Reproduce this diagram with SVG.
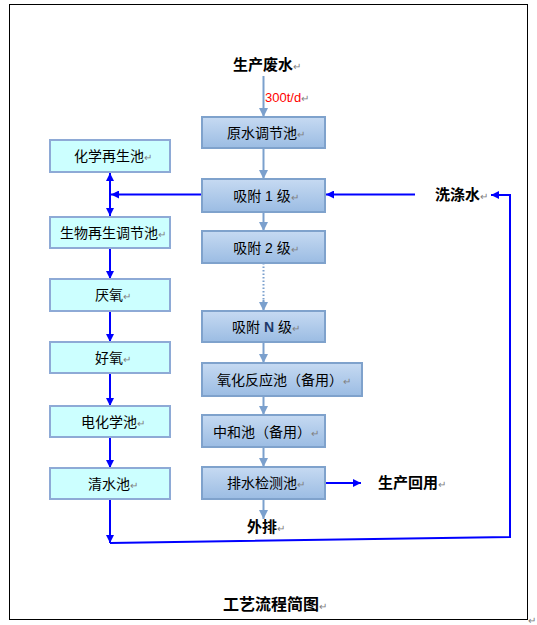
<svg xmlns="http://www.w3.org/2000/svg" width="537" height="625" viewBox="0 0 537 625">
<style>
text{font-family:"Liberation Sans","Noto Sans CJK SC",sans-serif;}
.t{font-size:14px;fill:#000;text-anchor:middle;}
.b{font-size:15px;font-weight:bold;fill:#000;}
.r{fill:#808080;font-size:10px;font-weight:normal;}
.pb{fill:url(#g);stroke:#7fa2cc;stroke-width:2;}
.cb{fill:#ccffff;stroke:#8eaad6;stroke-width:2;}
.sl{stroke:#7ba0cd;stroke-width:2;fill:none;}
.bl{stroke:#0000ff;stroke-width:2;fill:none;}
</style>
<defs>
<linearGradient id="g" x1="0" y1="0" x2="0" y2="1">
<stop offset="0" stop-color="#c6daf2"/>
<stop offset="1" stop-color="#9bbce3"/>
</linearGradient>
<marker id="sa" viewBox="0 0 10 10" refX="10" refY="5" markerWidth="4.5" markerHeight="4.5" orient="auto" markerUnits="strokeWidth">
<path d="M0,0 L10,5 L0,10 z" fill="#7ba0cd"/>
</marker>
<marker id="ba" viewBox="0 0 10 10" refX="10" refY="5" markerWidth="4.5" markerHeight="4" orient="auto-start-reverse" markerUnits="strokeWidth">
<path d="M0,0 L10,5 L0,10 z" fill="#0000ff"/>
</marker>
</defs>
<rect x="9.5" y="4.5" width="518" height="615" fill="#fff" stroke="#000" stroke-width="1"/>
<g id="connectors">
<line class="sl" x1="263.5" y1="76" x2="263.5" y2="117" marker-end="url(#sa)"/>
<line class="sl" x1="263.5" y1="148" x2="263.5" y2="179" marker-end="url(#sa)"/>
<line class="sl" x1="263.5" y1="212" x2="263.5" y2="231" marker-end="url(#sa)"/>
<line class="sl" x1="263.5" y1="263" x2="263.5" y2="303" stroke-dasharray="1.5,2" stroke-width="1.5"/>
<line class="sl" x1="263.5" y1="300" x2="263.5" y2="311" marker-end="url(#sa)"/>
<line class="sl" x1="263.5" y1="342" x2="263.5" y2="363" marker-end="url(#sa)"/>
<line class="sl" x1="263.5" y1="396" x2="263.5" y2="415" marker-end="url(#sa)"/>
<line class="sl" x1="263.5" y1="447" x2="263.5" y2="467" marker-end="url(#sa)"/>
<line class="sl" x1="263.5" y1="499" x2="263.5" y2="519" marker-end="url(#sa)"/>
<line class="bl" x1="325" y1="483" x2="361" y2="483" marker-end="url(#ba)"/>
<line class="bl" x1="202" y1="194.5" x2="111" y2="194.5" marker-end="url(#ba)"/>
<line class="bl" x1="110" y1="173" x2="110" y2="216" marker-start="url(#ba)" marker-end="url(#ba)"/>
<line class="bl" x1="415" y1="194.5" x2="326" y2="194.5" marker-end="url(#ba)"/>
<line class="bl" x1="110" y1="249" x2="110" y2="279" marker-end="url(#ba)"/>
<line class="bl" x1="110" y1="312" x2="110" y2="342" marker-end="url(#ba)"/>
<line class="bl" x1="110" y1="374" x2="110" y2="406" marker-end="url(#ba)"/>
<line class="bl" x1="110" y1="438" x2="110" y2="468" marker-end="url(#ba)"/>
<line class="bl" x1="110" y1="500" x2="110" y2="543" marker-end="url(#ba)"/>
<polyline class="bl" points="110,543 510,537 510,195 491,195" marker-end="url(#ba)"/>
</g>
<g id="n_src"><text class="b" x="233" y="70">生产废水<tspan class="r">↵</tspan></text></g>
<g id="n_rate"><text x="265" y="101.5" font-size="13" fill="#ff0000">300t/d<tspan fill="#808080" font-size="10">↵</tspan></text></g>
<g id="n1"><rect class="pb" x="202" y="117" width="123" height="31"/><text class="t" x="266" y="138">原水调节池<tspan class="r">↵</tspan></text></g>
<g id="n2"><rect class="pb" x="202" y="179" width="123" height="33"/><text class="t" x="266" y="201">吸附 1 级<tspan class="r">↵</tspan></text></g>
<g id="n3"><rect class="pb" x="202" y="231" width="123" height="32"/><text class="t" x="266" y="253">吸附 2 级<tspan class="r">↵</tspan></text></g>
<g id="n4"><rect class="pb" x="202" y="311" width="123" height="31"/><text class="t" x="266" y="332">吸附 <tspan font-weight="bold" fill="#1f3a6a">N</tspan> 级<tspan class="r">↵</tspan></text></g>
<g id="n5"><rect class="pb" x="202" y="363" width="160" height="33"/><text class="t" x="284" y="385">氧化反应池（备用）<tspan class="r">↵</tspan></text></g>
<g id="n6"><rect class="pb" x="202" y="415" width="123" height="32"/><text class="t" x="266" y="437">中和池（备用）<tspan class="r">↵</tspan></text></g>
<g id="n7"><rect class="pb" x="202" y="467" width="123" height="32"/><text class="t" x="266" y="488">排水检测池<tspan class="r">↵</tspan></text></g>
<g id="n_reuse"><text class="b" x="378" y="488">生产回用<tspan class="r">↵</tspan></text></g>
<g id="n_out"><text class="b" x="247" y="532">外排<tspan class="r">↵</tspan></text></g>
<g id="n_wash"><text class="b" x="435" y="200">洗涤水<tspan class="r">↵</tspan></text></g>
<g id="c1"><rect class="cb" x="50" y="140" width="120" height="32"/><text class="t" x="113" y="161">化学再生池<tspan class="r">↵</tspan></text></g>
<g id="c2"><rect class="cb" x="50" y="217" width="120" height="31"/><text class="t" x="113" y="238">生物再生调节池<tspan class="r">↵</tspan></text></g>
<g id="c3"><rect class="cb" x="50" y="279" width="120" height="32"/><text class="t" x="113" y="300">厌氧<tspan class="r">↵</tspan></text></g>
<g id="c4"><rect class="cb" x="50" y="342" width="120" height="31"/><text class="t" x="113" y="363">好氧<tspan class="r">↵</tspan></text></g>
<g id="c5"><rect class="cb" x="50" y="406" width="120" height="31"/><text class="t" x="113" y="427">电化学池<tspan class="r">↵</tspan></text></g>
<g id="c6"><rect class="cb" x="50" y="468" width="120" height="31"/><text class="t" x="113" y="489">清水池<tspan class="r">↵</tspan></text></g>
<g id="title"><text x="223" y="610" font-size="16" font-weight="bold">工艺流程简图<tspan class="r">↵</tspan></text></g>
<text x="528" y="624" font-size="10" fill="#808080">↵</text>
</svg>
